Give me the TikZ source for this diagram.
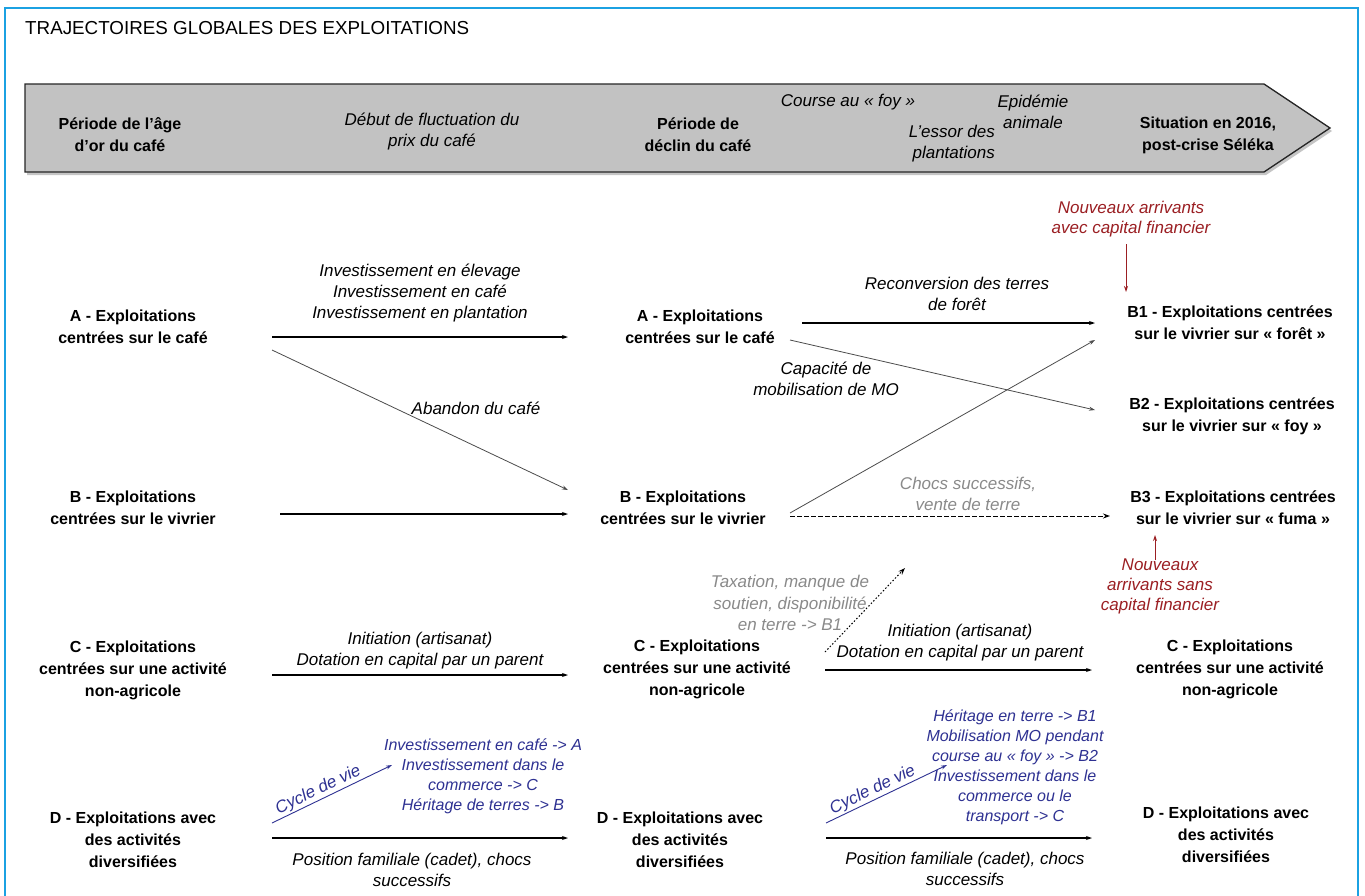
\documentclass[tikz,border=0pt]{standalone}
\usepackage{fontspec}
\setmainfont{Liberation Sans}
\usetikzlibrary{arrows.meta,shadows}
\definecolor{frameblue}{HTML}{1BA1E2}
\definecolor{hdrgray}{HTML}{C2C2C2}
\definecolor{darkred}{HTML}{9B1F23}
\definecolor{navy}{HTML}{2E3192}
\definecolor{labelgray}{HTML}{8A8A8A}
\begin{document}
\begin{tikzpicture}[x=1pt,y=-1pt,
  bnode/.style={align=center,font=\fontsize{16}{22}\selectfont\bfseries,inner sep=0pt},
  hnode/.style={align=center,font=\fontsize{16}{22}\selectfont\bfseries,inner sep=0pt},
  lbl/.style={align=center,font=\fontsize{17}{21}\selectfont\itshape,inner sep=0pt},
  bluelbl/.style={align=center,font=\fontsize{16}{20}\selectfont\itshape,inner sep=0pt,text=navy},
  redlbl/.style={align=center,font=\fontsize{17}{20}\selectfont\itshape,inner sep=0pt,text=darkred},
  graylbl/.style={align=center,font=\fontsize{17}{21.5}\selectfont\itshape,inner sep=0pt,text=labelgray},
  cyclbl/.style={pos=0.42,above=1pt,sloped,inner sep=0pt,font=\fontsize{17}{20}\selectfont\itshape,text=navy},
  arr/.style={line width=1.1pt,-{Stealth[length=6pt,width=4pt]}},
  thinarr/.style={line width=0.8pt,draw=black!70,-{Stealth[length=6pt,width=4pt]}},
  bluearr/.style={line width=0.9pt,draw=navy,-{Stealth[length=6pt,width=4pt]}},
  redarr/.style={line width=0.9pt,draw=darkred,-{Stealth[length=6pt,width=4pt]}},
  dasharr/.style={line width=1pt,dash pattern=on 5pt off 2pt,-{Stealth[length=7pt,width=5pt]}},
  dotarr/.style={line width=1pt,dash pattern=on 1.5pt off 2pt,-{Stealth[length=7pt,width=5pt]}}
]
\useasboundingbox (0,0) rectangle (1365,895);
\fill[white] (0,0) rectangle (1365,895);
% frame
\draw[frameblue,line width=2pt] (5,896) -- (5,8) -- (1358,8) -- (1358,896);
% title
\node[anchor=west,inner sep=0pt,font=\fontsize{18.8}{22}\selectfont] (title) at (25,28) {TRAJECTOIRES GLOBALES DES EXPLOITATIONS};
% header arrow
\draw[fill=hdrgray,draw=black!85,line width=1.3pt,drop shadow={shadow xshift=2pt,shadow yshift=-3pt,opacity=0.45}]
  (25,84) -- (1264,84) -- (1330,128) -- (1264,172) -- (25,172) -- cycle;
\node[hnode] (h1) at (120,135) {Période de l'âge\\d'or du café};
\node[lbl] (h2) at (432,131) {Début de fluctuation du\\prix du café};
\node[hnode] (h3) at (698,135) {Période de\\déclin du café};
\node[lbl] (h4) at (848,102) {Course au « foy »};
\node[lbl,align=right,anchor=east] (h5) at (995,144) {L'essor des\\plantations};
\node[lbl] (h6) at (1033,112) {Epidémie\\animale};
\node[hnode] (h7) at (1208,135) {Situation en 2016,\\post-crise Séléka};

% nodes
\node[bnode] (A1) at (133,327) {A - \textbf{E}xploitations\\centrées sur le café};
\node[bnode] (A2) at (700,327) {A - \textbf{E}xploitations\\centrées sur le café};
\node[bnode] (B1) at (1230,323) {B1 - \textbf{E}xploitations centrées\\sur le vivrier sur « forêt »};
\node[bnode] (B2) at (1232,416) {B2 - \textbf{E}xploitations centrées\\sur le vivrier sur « foy »};
\node[bnode] (Bl) at (133,508) {B - \textbf{E}xploitations\\centrées sur le vivrier};
\node[bnode] (Bm) at (683,508) {B - \textbf{E}xploitations\\centrées sur le vivrier};
\node[bnode] (B3) at (1233,508) {B3 - \textbf{E}xploitations centrées\\sur le vivrier sur « fuma »};
\node[bnode] (Cl) at (133,670) {C - \textbf{E}xploitations\\centrées sur une activité\\non-agricole};
\node[bnode] (Cm) at (697,669) {C - \textbf{E}xploitations\\centrées sur une activité\\non-agricole};
\node[bnode] (Cr) at (1230,669) {C - \textbf{E}xploitations\\centrées sur une activité\\non-agricole};
\node[bnode] (Dl) at (133,840) {D - \textbf{E}xploitations avec\\des activités\\diversifiées};
\node[bnode] (Dm) at (680,840) {D - \textbf{E}xploitations avec\\des activités\\diversifiées};
\node[bnode] (Dr) at (1226,835) {D - \textbf{E}xploitations avec\\des activités\\diversifiées};

% red newcomer labels
\node[redlbl] (R1) at (1131,219) {Nouveaux arrivants\\avec capital financier};
\node[redlbl] (R2) at (1160,586) {Nouveaux\\arrivants sans\\capital financier};

% edge labels
\node[lbl] (lA) at (420,293) {Investissement en élevage\\Investissement en café\\Investissement en plantation};
\node[lbl] (lAb) at (476,408) {Abandon du café};
\node[lbl] (lRe) at (957,293.5) {Reconversion des terres\\de forêt};
\node[lbl] (lCap) at (826,379) {Capacité de\\mobilisation de MO};
\node[graylbl] (lCh) at (968,494) {Chocs successifs,\\vente de terre};
\node[graylbl] (lTax) at (790,603) {Taxation, manque de\\soutien, disponibilité\\en terre -> B1};
\node[lbl] (lC1) at (420,650.5) {Initiation (artisanat)\\Dotation en capital par un parent};
\node[lbl] (lC2) at (960,642.5) {Initiation (artisanat)\\Dotation en capital par un parent};
\node[lbl] (lD1) at (412,869.5) {Position familiale (cadet), chocs\\successifs};
\node[lbl] (lD2) at (965,868.5) {Position familiale (cadet), chocs\\successifs};
\node[bluelbl] (bl1) at (483,776) {Investissement en café -> A\\Investissement dans le\\commerce -> C\\Héritage de terres -> B};
\node[bluelbl] (bl2) at (1015,767) {Héritage en terre -> B1\\Mobilisation MO pendant\\course au « foy » -> B2\\Investissement dans le\\commerce ou le\\transport -> C};

% arrow end coordinates
\coordinate (A1r) at (272,337);   \coordinate (A2l) at (568,337);
\coordinate (A1d) at (272,350);   \coordinate (Bmu) at (568,490);
\coordinate (Blr) at (280,514);   \coordinate (Bml) at (568,514);
\coordinate (A2r) at (802,323);   \coordinate (B1l) at (1095,323);
\coordinate (A2d) at (790,340);   \coordinate (B2l) at (1095,410);
\coordinate (Bmr) at (790,513);   \coordinate (B1d) at (1095,340);
\coordinate (Bmr2) at (790,516);  \coordinate (B3l) at (1110,516);
\coordinate (Cmu) at (825,652);   \coordinate (Tx) at (905,568);
\coordinate (Clr) at (272,675);   \coordinate (Cml) at (568,675);
\coordinate (Cmr) at (825,670);   \coordinate (Crl) at (1092,670);
\coordinate (Dlr) at (272,838);   \coordinate (Dml) at (568,838);
\coordinate (Dmr) at (826,838);   \coordinate (Drl) at (1092,838);
\coordinate (Dlu) at (272,823);   \coordinate (Bl1) at (392,765);
\coordinate (Dmu) at (826,823);   \coordinate (Bl2) at (947,765);
\coordinate (R1d) at (1126,244);  \coordinate (B1u) at (1126,292);
\coordinate (R2u) at (1155,560);  \coordinate (B3d) at (1155,535);

% connectors
\draw[arr] (A1r) -- (A2l);
\draw[thinarr] (A1d) -- (Bmu);
\draw[arr] (Blr) -- (Bml);
\draw[arr] (A2r) -- (B1l);
\draw[thinarr] (A2d) -- (B2l);
\draw[thinarr] (Bmr) -- (B1d);
\draw[dasharr] (Bmr2) -- (B3l);
\draw[dotarr] (Cmu) -- (Tx);
\draw[arr] (Clr) -- (Cml);
\draw[arr] (Cmr) -- (Crl);
\draw[arr] (Dlr) -- (Dml);
\draw[arr] (Dmr) -- (Drl);
\draw[bluearr] (Dlu) -- node[cyclbl] (cv1) {Cycle de vie} (Bl1);
\draw[bluearr] (Dmu) -- node[cyclbl] (cv2) {Cycle de vie} (Bl2);
\draw[redarr] (R1d) -- (B1u);
\draw[redarr] (R2u) -- (B3d);
\end{tikzpicture}
\end{document}
